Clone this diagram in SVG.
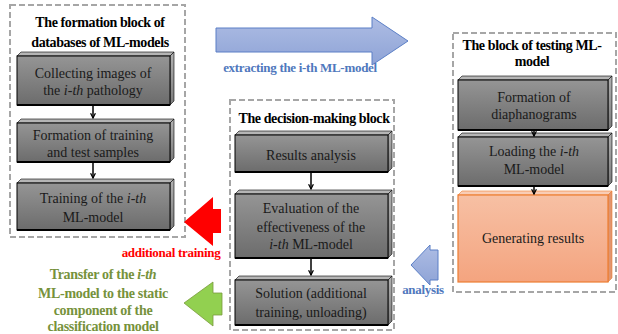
<svg xmlns="http://www.w3.org/2000/svg" width="618" height="334" viewBox="0 0 618 334">
<defs>
<linearGradient id="gFront" x1="0" y1="0" x2="0" y2="1"><stop offset="0" stop-color="#959595"/><stop offset="1" stop-color="#6c6c6c"/></linearGradient>
<linearGradient id="gSide" x1="0" y1="0" x2="0" y2="1"><stop offset="0" stop-color="#b2b2b2"/><stop offset="1" stop-color="#7c7c7c"/></linearGradient>
<linearGradient id="gOrange" x1="0" y1="0" x2="0" y2="1"><stop offset="0" stop-color="#f7c0a4"/><stop offset="1" stop-color="#f4a47f"/></linearGradient>
<linearGradient id="gBlue" x1="0" y1="0" x2="0" y2="1"><stop offset="0" stop-color="#aebde4"/><stop offset="1" stop-color="#8ea3d6"/></linearGradient>
<marker id="ah" viewBox="0 0 10 10" refX="9" refY="5" markerWidth="4" markerHeight="4" orient="auto"><path d="M1,1 L9,5 L1,9" fill="none" stroke="#000" stroke-width="2"/></marker>
</defs>
<style>
text{font-family:"Liberation Serif","Tinos","Nimbus Roman","Nimbus Roman No9 L","FreeSerif","Times New Roman","Times","DejaVu Serif","Noto Serif",serif}
.cont{fill:none;stroke:#a6a6a6;stroke-width:2;stroke-dasharray:6 3}
.front{fill:url(#gFront);stroke:#000;stroke-width:1}
.top{fill:#b5b5b5;stroke:#000;stroke-width:0.6}
.side{fill:url(#gSide);stroke:#000;stroke-width:0.6}
.ofront{fill:url(#gOrange);stroke:#ed7d31;stroke-width:1.2}
.otop{fill:#f9cdb6;stroke:#ed7d31;stroke-width:0.6}
.oside{fill:#e09570;stroke:#ed7d31;stroke-width:0.6}
.bot{stroke:#000;stroke-width:2}
.t{font-size:14px;fill:#1a1a1a;text-anchor:middle}
.h{font-size:14px;font-weight:bold;fill:#000;text-anchor:middle;letter-spacing:-0.4px}
.conn{stroke:#000;stroke-width:1.5;fill:none;marker-end:url(#ah)}
.lbl{font-size:13px;font-weight:bold;letter-spacing:-0.3px}
.gl{font-size:14px;font-weight:bold;fill:#76923c;text-anchor:middle;letter-spacing:-0.3px}
</style>

<g id="block-formation">
<rect class="cont" x="10" y="5" width="175" height="232"/>
<text class="h" x="100" y="27">The formation block of</text>
<text class="h" x="100" y="47">databases of ML-models</text>
</g>
<g id="node-collecting">
<polygon class="top" points="17,56 21,52 174,52 170,56"/>
<polygon class="side" points="170,56 174,52 174,101 170,105"/>
<rect class="front" x="17" y="56" width="153" height="49"/>
<line class="bot" x1="17" y1="105" x2="170" y2="105"/>
<text class="t" x="93" y="78">Collecting images of</text>
<text class="t" x="93" y="95">the <tspan font-style="italic">i-th</tspan> pathology</text>
</g>
<g id="node-samples">
<polygon class="top" points="17,123 21,119 174,119 170,123"/>
<polygon class="side" points="170,123 174,119 174,158 170,162"/>
<rect class="front" x="17" y="123" width="153" height="39"/>
<line class="bot" x1="17" y1="162" x2="170" y2="162"/>
<text class="t" x="93" y="140">Formation of training</text>
<text class="t" x="93" y="157">and test samples</text>
</g>
<g id="node-training">
<polygon class="top" points="17,183 21,179 174,179 170,183"/>
<polygon class="side" points="170,183 174,179 174,226 170,230"/>
<rect class="front" x="17" y="183" width="153" height="47"/>
<line class="bot" x1="17" y1="230" x2="170" y2="230"/>
<text class="t" x="93" y="203">Training of the <tspan font-style="italic">i-th</tspan></text>
<text class="t" x="93" y="222">ML-model</text>
</g>

<g id="block-decision">
<rect class="cont" x="230" y="100" width="164" height="230"/>
<text class="h" x="314" y="123">The decision-making block</text>
</g>
<g id="node-results-analysis">
<polygon class="top" points="235,135 239,131 392,131 388,135"/>
<polygon class="side" points="388,135 392,131 392,168 388,172"/>
<rect class="front" x="235" y="135" width="153" height="37"/>
<line class="bot" x1="235" y1="172" x2="388" y2="172"/>
<text class="t" x="311" y="160">Results analysis</text>
</g>
<g id="node-evaluation">
<polygon class="top" points="235,194 239,190 392,190 388,194"/>
<polygon class="side" points="388,194 392,190 392,254 388,258"/>
<rect class="front" x="235" y="194" width="153" height="64"/>
<line class="bot" x1="235" y1="258" x2="388" y2="258"/>
<text class="t" x="311" y="213">Evaluation of the</text>
<text class="t" x="311" y="232">effectiveness of the</text>
<text class="t" x="311" y="249"><tspan font-style="italic">i-th</tspan> ML-model</text>
</g>
<g id="node-solution">
<polygon class="top" points="235,280 239,276 392,276 388,280"/>
<polygon class="side" points="388,280 392,276 392,321 388,325"/>
<rect class="front" x="235" y="280" width="153" height="45"/>
<line class="bot" x1="235" y1="325" x2="388" y2="325"/>
<text class="t" x="311" y="298">Solution (additional</text>
<text class="t" x="311" y="317">training, unloading)</text>
</g>

<g id="block-testing">
<rect class="cont" x="453" y="33" width="163" height="259"/>
<text class="h" x="532" y="50">The block of testing ML-</text>
<text class="h" x="532" y="66">model</text>
</g>
<g id="node-diaphanograms">
<polygon class="top" points="458,80 462,76 612,76 608,80"/>
<polygon class="side" points="608,80 612,76 612,126 608,130"/>
<rect class="front" x="458" y="80" width="150" height="50"/>
<line class="bot" x1="458" y1="130" x2="608" y2="130"/>
<text class="t" x="534" y="102">Formation of</text>
<text class="t" x="534" y="119">diaphanograms</text>
</g>
<g id="node-loading">
<polygon class="top" points="458,137 462,133 612,133 608,137"/>
<polygon class="side" points="608,137 612,133 612,182 608,186"/>
<rect class="front" x="458" y="137" width="150" height="49"/>
<line class="bot" x1="458" y1="186" x2="608" y2="186"/>
<text class="t" x="534" y="156">Loading the <tspan font-style="italic">i-th</tspan></text>
<text class="t" x="534" y="174">ML-model</text>
</g>
<g id="node-generating">
<polygon class="otop" points="458,195 462,191 612,191 608,195"/>
<polygon class="oside" points="608,195 612,191 612,278 608,282"/>
<rect class="ofront" x="458" y="195" width="150" height="87"/>
<text class="t" x="533" y="243">Generating results</text>
</g>

<g id="connectors">
<line class="conn" x1="93" y1="106" x2="93" y2="118"/>
<line class="conn" x1="93" y1="163" x2="93" y2="178"/>
<line class="conn" x1="311" y1="173" x2="311" y2="189"/>
<line class="conn" x1="311" y1="259" x2="311" y2="275"/>
<line class="conn" x1="534" y1="130" x2="534" y2="136"/>
<line class="conn" x1="534" y1="186" x2="534" y2="194"/>
<polygon id="arrow-extract" points="216,28 372,28 372,17 408,41 372,65 372,52 216,52" fill="url(#gBlue)" stroke="#5b7fc6" stroke-width="1"/>
<text class="lbl" x="300" y="72" text-anchor="middle" fill="#4f78bd">extracting the i-th ML-model</text>
<polygon id="arrow-additional" points="184,222 213,197 213,209 221,209 221,233 213,233 213,246" fill="#ff0000"/>
<text class="lbl" x="171" y="257" text-anchor="middle" fill="#ff0000">additional training</text>
<polygon id="arrow-analysis" points="411,265 430,245 430,250 438,250 438,280 430,280 430,285" fill="url(#gBlue)" stroke="#5b7fc6" stroke-width="1"/>
<text class="lbl" x="423" y="294" text-anchor="middle" fill="#4f78bd">analysis</text>
<polygon id="arrow-transfer" points="184,303 213,282 213,293 222,293 222,315 213,315 213,326" fill="#92d050" stroke="#7a9a3c" stroke-width="0.8"/>
<text class="gl" x="103" y="279">Transfer of the <tspan font-style="italic">i-th</tspan></text>
<text class="gl" x="103" y="298">ML-model to the static</text>
<text class="gl" x="103" y="315">component of the</text>
<text class="gl" x="103" y="331">classification model</text>
</g>
</svg>
